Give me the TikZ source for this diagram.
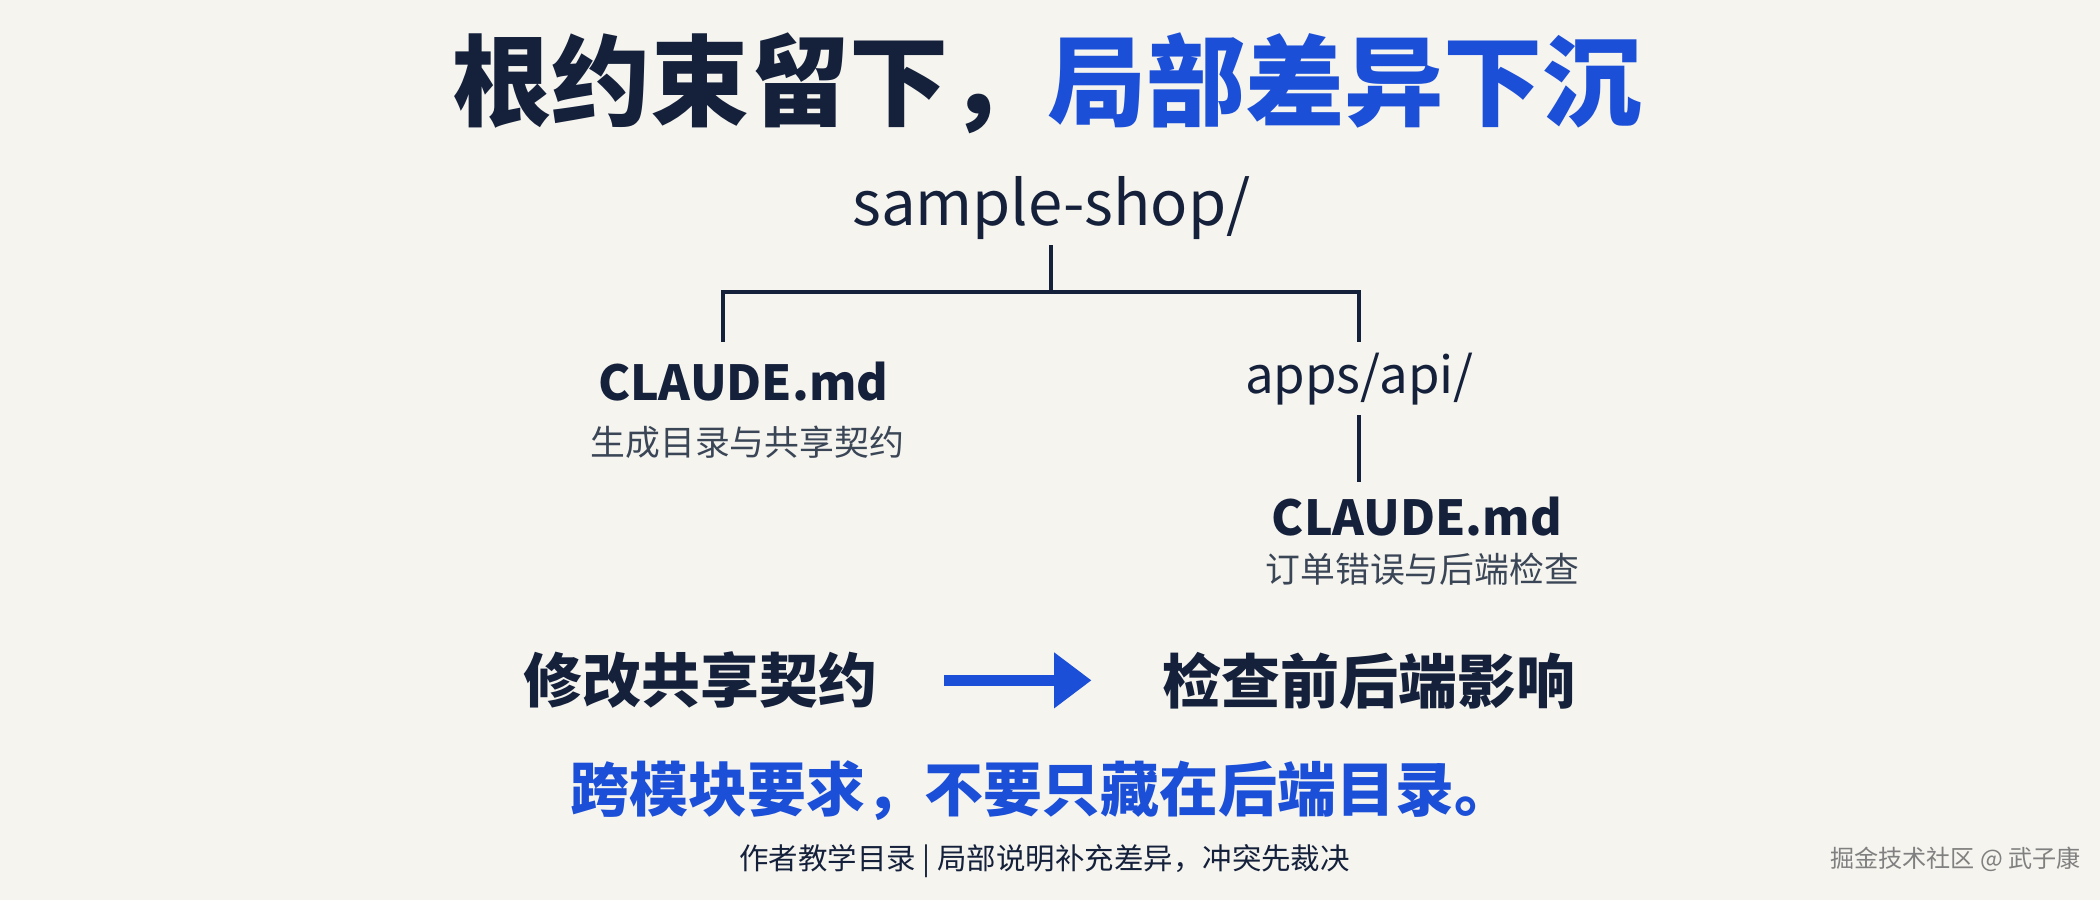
\documentclass[tikz,border=0pt]{standalone}
\usepackage{fontspec}
\setmainfont{Noto Sans CJK SC}
\usetikzlibrary{arrows.meta}
\definecolor{bg}{HTML}{F5F4EF}
\definecolor{navy}{HTML}{15213B}
\definecolor{blu}{HTML}{1C4FD8}
\definecolor{sub}{HTML}{3A4556}
\begin{document}
\begin{tikzpicture}[x=0.5pt,y=-0.5pt,
  line/.style={navy,line width=1.5pt},
  big/.style={font=\fontsize{23}{26}\selectfont,text=navy},
  file/.style={font=\fontsize{18}{21}\selectfont\bfseries,text=navy},
  desc/.style={font=\fontsize{13}{15}\selectfont,text=sub},
  act/.style={font=\fontsize{22}{25}\selectfont\bfseries,text=navy}]
\fill[bg] (0,0) rectangle (1568,672);
\useasboundingbox (0,0) rectangle (1568,672);
\node[font=\fontsize{37}{40}\selectfont\bfseries] (title) at (782,62) {\textcolor{navy}{根约束留下，}\textcolor{blu}{局部差异下沉}};
\node[big] (root) at (785,155) {sample-shop/};
\node[file] (c1) at (555,285) {CLAUDE.md};
\node[desc] (d1) at (558,330) {生成目录与共享契约};
\node[big,font=\fontsize{19}{22}\selectfont] (api) at (1015,283) {apps/api/};
\node[file] (c2) at (1058,386) {CLAUDE.md};
\node[desc] (d2) at (1062,425) {订单错误与后端检查};
\coordinate (j) at (785,218);
\coordinate (l) at (540,218);
\coordinate (r) at (1015,218);
\draw[line] (785,183) -- (j);
\draw[line] (540,255) -- (l) -- (r) -- (1015,255);
\draw[line] (1015,310) -- (1015,360);
\node[act] (a1) at (523,508) {修改共享契约};
\node[act] (a2) at (1022,508) {检查前后端影响};
\draw[blu,line width=4pt,-{Triangle[length=14pt,width=20pt]}] (705,508) -- (815,508);
\node[act,text=blu] (note) at (778,590) {跨模块要求，不要只藏在后端目录。};
\node[font=\fontsize{11}{13}\selectfont,text=navy] (foot) at (780,643) {作者教学目录 | 局部说明补充差异，冲突先裁决};
\node[font=\fontsize{9}{11}\selectfont,text=gray] (wm) at (1460,642) {掘金技术社区 @ 武子康};
\end{tikzpicture}
\end{document}
